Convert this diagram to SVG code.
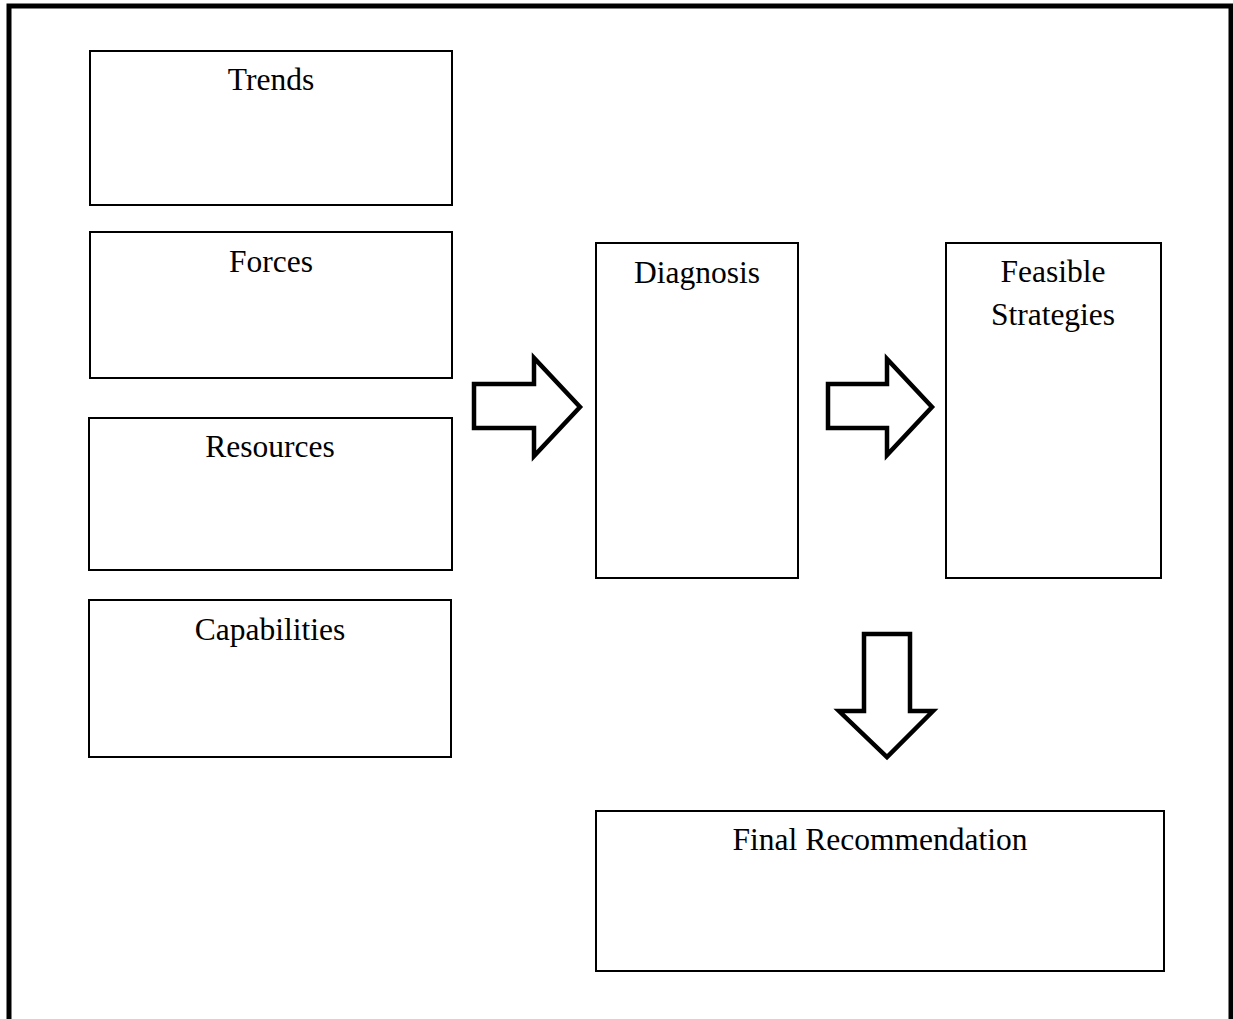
<svg xmlns="http://www.w3.org/2000/svg" width="1233" height="1019" viewBox="0 0 1233 1019">
<style>
.box{fill:#fff;stroke:#000;stroke-width:2}
.arr{fill:#fff;stroke:#000;stroke-width:4.5;stroke-linejoin:miter}
.t{font-family:"Liberation Serif","Times New Roman",serif;font-size:31.5px;fill:#000;text-anchor:middle}
</style>
<rect width="1233" height="1019" fill="#fff"/>
<g id="frame">
<path d="M9 1019 V6 H1231 V1019" fill="none" stroke="#000" stroke-width="5"/>
</g>
<g id="trends"><rect class="box" x="90" y="51" width="362" height="154"/><text class="t" x="271" y="90">Trends</text></g>
<g id="forces"><rect class="box" x="90" y="232" width="362" height="146"/><text class="t" x="271" y="272">Forces</text></g>
<g id="resources"><rect class="box" x="89" y="418" width="363" height="152"/><text class="t" x="270" y="457">Resources</text></g>
<g id="capabilities"><rect class="box" x="89" y="600" width="362" height="157"/><text class="t" x="270" y="640">Capabilities</text></g>
<g id="diagnosis"><rect class="box" x="596" y="243" width="202" height="335"/><text class="t" x="697" y="283">Diagnosis</text></g>
<g id="strategies"><rect class="box" x="946" y="243" width="215" height="335"/><text class="t" x="1053" y="282">Feasible</text><text class="t" x="1053" y="325">Strategies</text></g>
<g id="final"><rect class="box" x="596" y="811" width="568" height="160"/><text class="t" x="880" y="850">Final Recommendation</text></g>
<g id="connectors">
<path class="arr" d="M474 384 H534 V358 L580 407 L534 456 V428 H474 Z"/>
<path class="arr" d="M828 384 H887 V359 L932 407 L887 455 V428 H828 Z"/>
<path class="arr" d="M864 634 H910 V711 H933 L887 757 L839 711 H864 Z"/>
</g>
</svg>
